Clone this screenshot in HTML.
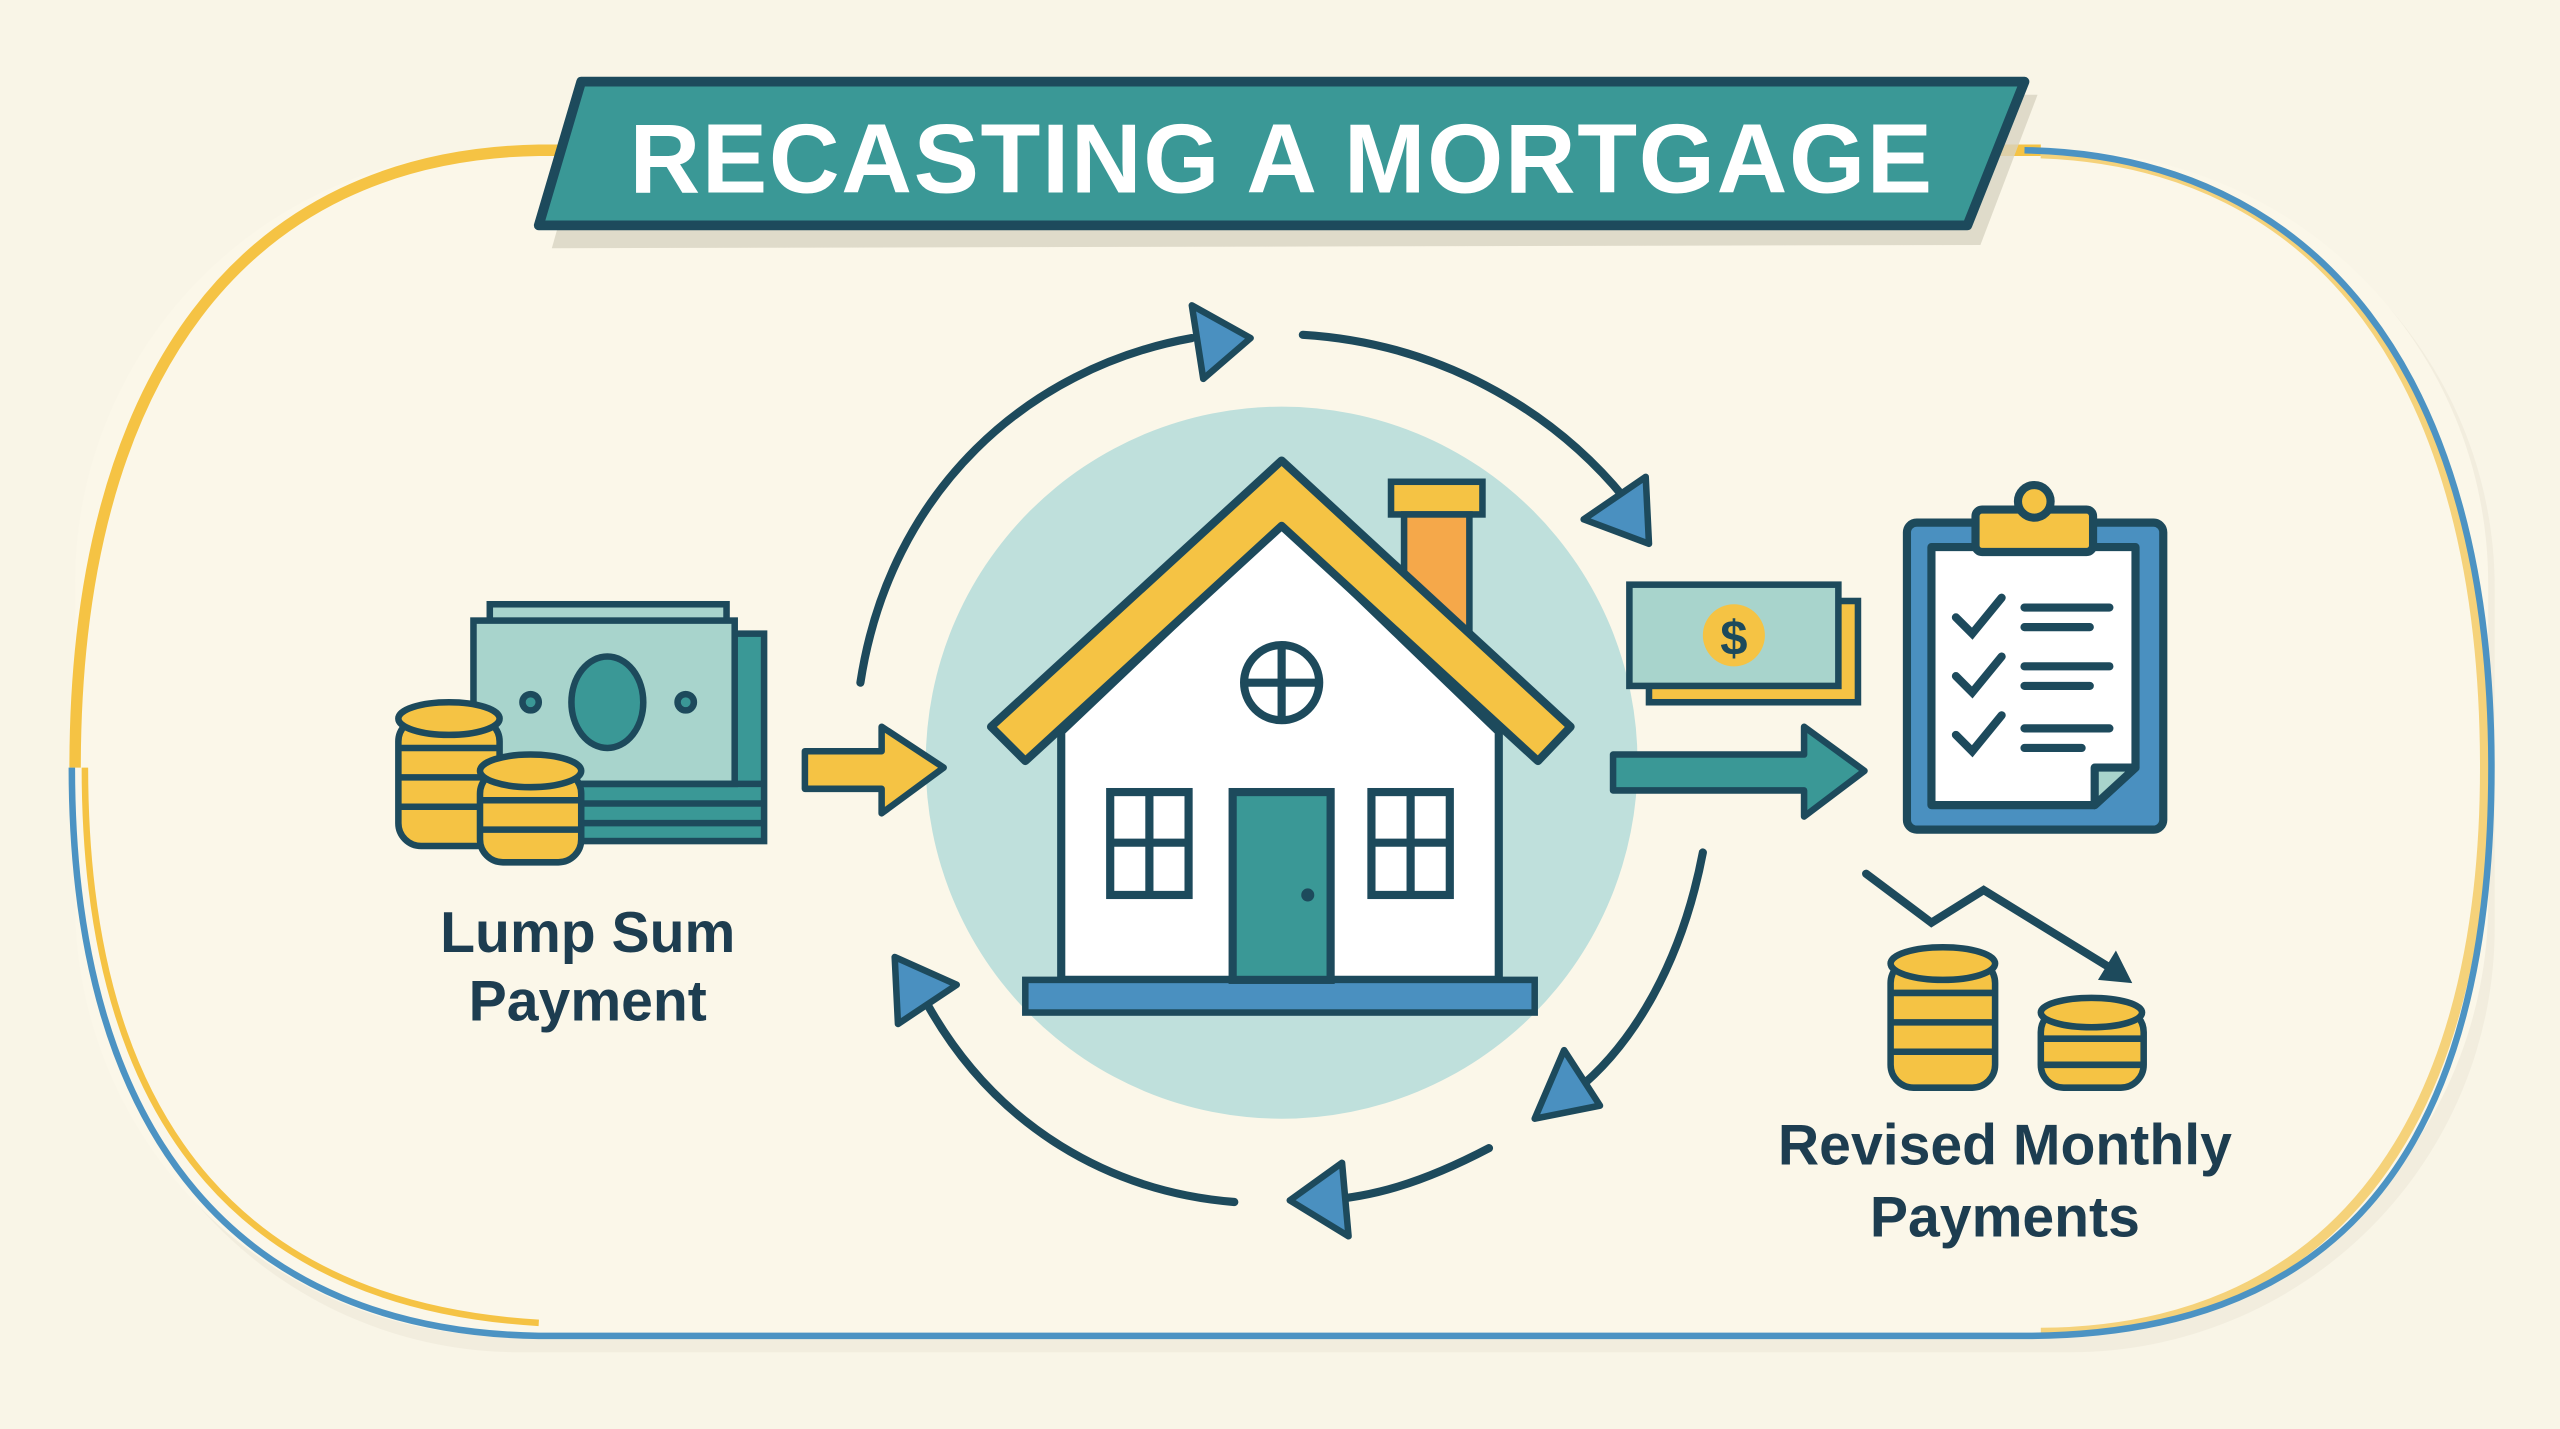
<!DOCTYPE html>
<html><head><meta charset="utf-8"><style>
html,body{margin:0;padding:0;background:#f9f5e7;}
svg{display:block;}
</style></head><body>
<svg width="2560" height="1429" viewBox="0 0 1568 875" preserveAspectRatio="none" xmlns="http://www.w3.org/2000/svg">
<rect width="1568" height="875" fill="#f9f5e7"/>
<!-- frame -->
<rect x="58" y="100" width="1470" height="728" rx="260" fill="#ece8d8" opacity="0.6"/>
<rect x="46" y="92" width="1478" height="726" rx="265" fill="#fbf7e9"/>
<path d="M46 470 C46 230 150 95 330 92 L1250 92" fill="none" stroke="#f5c344" stroke-width="7"/>
<path d="M1250 94 C1420 100 1522 230 1522 470 C1522 700 1420 815 1250 816" fill="none" stroke="#f5d27a" stroke-width="6"/>
<path d="M1240 92 C1420 95 1526 230 1526 470 C1526 720 1420 818 1240 818 L330 818 C150 815 44 700 44 470" fill="none" stroke="#4c93c3" stroke-width="4"/>
<path d="M330 810 C160 800 52 700 52 470" fill="none" stroke="#f5c344" stroke-width="4"/>
<!-- title -->
<polygon points="364,60 1248,58 1213,150 338,152" fill="#d8d3c2" opacity="0.8"/>
<polygon points="356,50 1240,50 1205,138 330,138" fill="#3a9896" stroke="#1d4a5c" stroke-width="6" stroke-linejoin="round"/>
<text x="785" y="118" text-anchor="middle" font-family="Liberation Sans, sans-serif" font-weight="bold" font-size="60" fill="#ffffff" letter-spacing="1">RECASTING A MORTGAGE</text>
<!-- circle -->
<circle cx="785" cy="467" r="218" fill="#bfe0dc"/>
<!-- cycle arrows -->
<g fill="none" stroke="#1d4a5c" stroke-width="5" stroke-linecap="round">
<path d="M527 418 C545 300 630 225 730 207"/>
<path d="M798 205 C880 210 950 250 995 305"/>
<path d="M1043 522 C1030 590 1000 640 965 668"/>
<path d="M912 703 C870 725 840 733 810 735"/>
<path d="M756 736 C680 730 610 690 568 615"/>
</g>
<g fill="#4a90c0" stroke="#1d4a5c" stroke-width="4" stroke-linejoin="round">
<polygon points="730,187 766,207 737,232"/>
<polygon points="970,318 1008,292 1010,333"/>
<polygon points="940,685 958,643 980,677"/>
<polygon points="790,735 822,712 826,757"/>
<polygon points="548,586 586,603 550,627"/>
</g>
<!-- house -->
<rect x="852" y="295" width="56" height="20" fill="#f5c344" stroke="#1d4a5c" stroke-width="4"/>
<rect x="860" y="315" width="40" height="75" fill="#f5a84a" stroke="#1d4a5c" stroke-width="4"/>
<polygon points="650,448 785,320 918,448 918,600 650,600" fill="#ffffff" stroke="#1d4a5c" stroke-width="5" stroke-linejoin="round"/>
<polygon points="607,445 785,282 962,445 942,466 785,322 628,466" fill="#f5c344" stroke="#1d4a5c" stroke-width="5" stroke-linejoin="round"/>
<rect x="628" y="600" width="312" height="20" fill="#4a90c0" stroke="#1d4a5c" stroke-width="4"/>
<rect x="755" y="485" width="60" height="115" fill="#3a9896" stroke="#1d4a5c" stroke-width="5"/>
<circle cx="801" cy="548" r="4" fill="#1d4a5c"/>
<g fill="#ffffff" stroke="#1d4a5c" stroke-width="5">
<rect x="680" y="485" width="48" height="63"/><path d="M704 485V548M680 516H728"/>
<rect x="840" y="485" width="48" height="63"/><path d="M864 485V548M840 516H888"/>
<circle cx="785" cy="418" r="23"/><path d="M785 395V441M762 418H808"/>
</g>
<!-- left money -->
<g stroke="#1d4a5c" stroke-width="4">
<rect x="300" y="370" width="145" height="20" fill="#a8d4cc"/>
<rect x="300" y="388" width="168" height="127" fill="#3a9896"/>
<rect x="290" y="380" width="160" height="100" fill="#a8d4cc"/>
<path d="M300 480H468M300 492H468M300 504H468" fill="none"/>
<ellipse cx="372" cy="430" rx="22" ry="28" fill="#3a9896"/>
<circle cx="325" cy="430" r="5" fill="#3a9896"/><circle cx="420" cy="430" r="5" fill="#3a9896"/>
</g>
<g stroke="#1d4a5c" stroke-width="4" fill="#f5c344">
<rect x="244" y="440" width="62" height="78" rx="14"/>
<ellipse cx="275" cy="440" rx="31" ry="10"/>
<path d="M244 458H306M244 476H306M244 494H306" fill="none"/>
<rect x="294" y="472" width="62" height="56" rx="14"/>
<ellipse cx="325" cy="472" rx="31" ry="10"/>
<path d="M294 490H356M294 508H356" fill="none"/>
</g>
<polygon points="493,460 540,460 540,445 578,470 540,498 540,483 493,483" fill="#f5c344" stroke="#1d4a5c" stroke-width="4" stroke-linejoin="round"/>
<g font-family="Liberation Sans, sans-serif" font-weight="bold" font-size="35" fill="#1d3d50" text-anchor="middle">
<text x="360" y="583">Lump Sum</text><text x="360" y="625">Payment</text>
<text x="1228" y="713">Revised Monthly</text><text x="1228" y="757">Payments</text>
</g>
<!-- right arrow -->
<polygon points="988,462 1105,462 1105,445 1142,472 1105,500 1105,484 988,484" fill="#3a9896" stroke="#1d4a5c" stroke-width="4" stroke-linejoin="round"/>
<!-- small bill -->
<g stroke="#1d4a5c" stroke-width="4">
<rect x="1010" y="368" width="128" height="62" fill="#f5c344"/>
<rect x="998" y="358" width="128" height="62" fill="#a8d4cc"/>
<circle cx="1062" cy="389" r="19" fill="#f5c344" stroke="none"/>
</g>
<text x="1062" y="401" text-anchor="middle" font-family="Liberation Sans, sans-serif" font-weight="bold" font-size="30" fill="#1d4a5c">$</text>
<!-- clipboard -->
<g stroke="#1d4a5c" stroke-width="5" stroke-linejoin="round">
<rect x="1168" y="320" width="157" height="188" rx="6" fill="#4a90c0"/>
<polygon points="1183,335 1308,335 1308,470 1283,493 1183,493" fill="#ffffff"/>
<polygon points="1283,493 1283,470 1308,470" fill="#a8d4cc"/>
<rect x="1210" y="312" width="72" height="26" rx="4" fill="#f5c344"/>
<circle cx="1246" cy="307" r="10" fill="#f5c344"/>
</g>
<g fill="none" stroke="#1d4a5c" stroke-width="5" stroke-linecap="round">
<path d="M1198 378L1208 388L1226 366M1198 414L1208 424L1226 402M1198 450L1208 460L1226 438"/>
<path d="M1240 372H1292M1240 384H1280M1240 408H1292M1240 420H1280M1240 446H1292M1240 458H1275"/>
<path d="M1143 535L1183 565L1215 545L1298 596"/>
</g>
<polygon points="1285,600 1306,602 1296,582" fill="#1d4a5c"/>
<!-- right coins -->
<g stroke="#1d4a5c" stroke-width="4" fill="#f5c344">
<rect x="1158" y="588" width="64" height="78" rx="14"/>
<ellipse cx="1190" cy="590" rx="32" ry="10"/>
<path d="M1158 608H1222M1158 626H1222M1158 644H1222" fill="none"/>
<rect x="1250" y="618" width="63" height="48" rx="14"/>
<ellipse cx="1281" cy="620" rx="31" ry="9"/>
<path d="M1250 636H1313M1250 652H1313" fill="none"/>
</g>
</svg>
</body></html>
